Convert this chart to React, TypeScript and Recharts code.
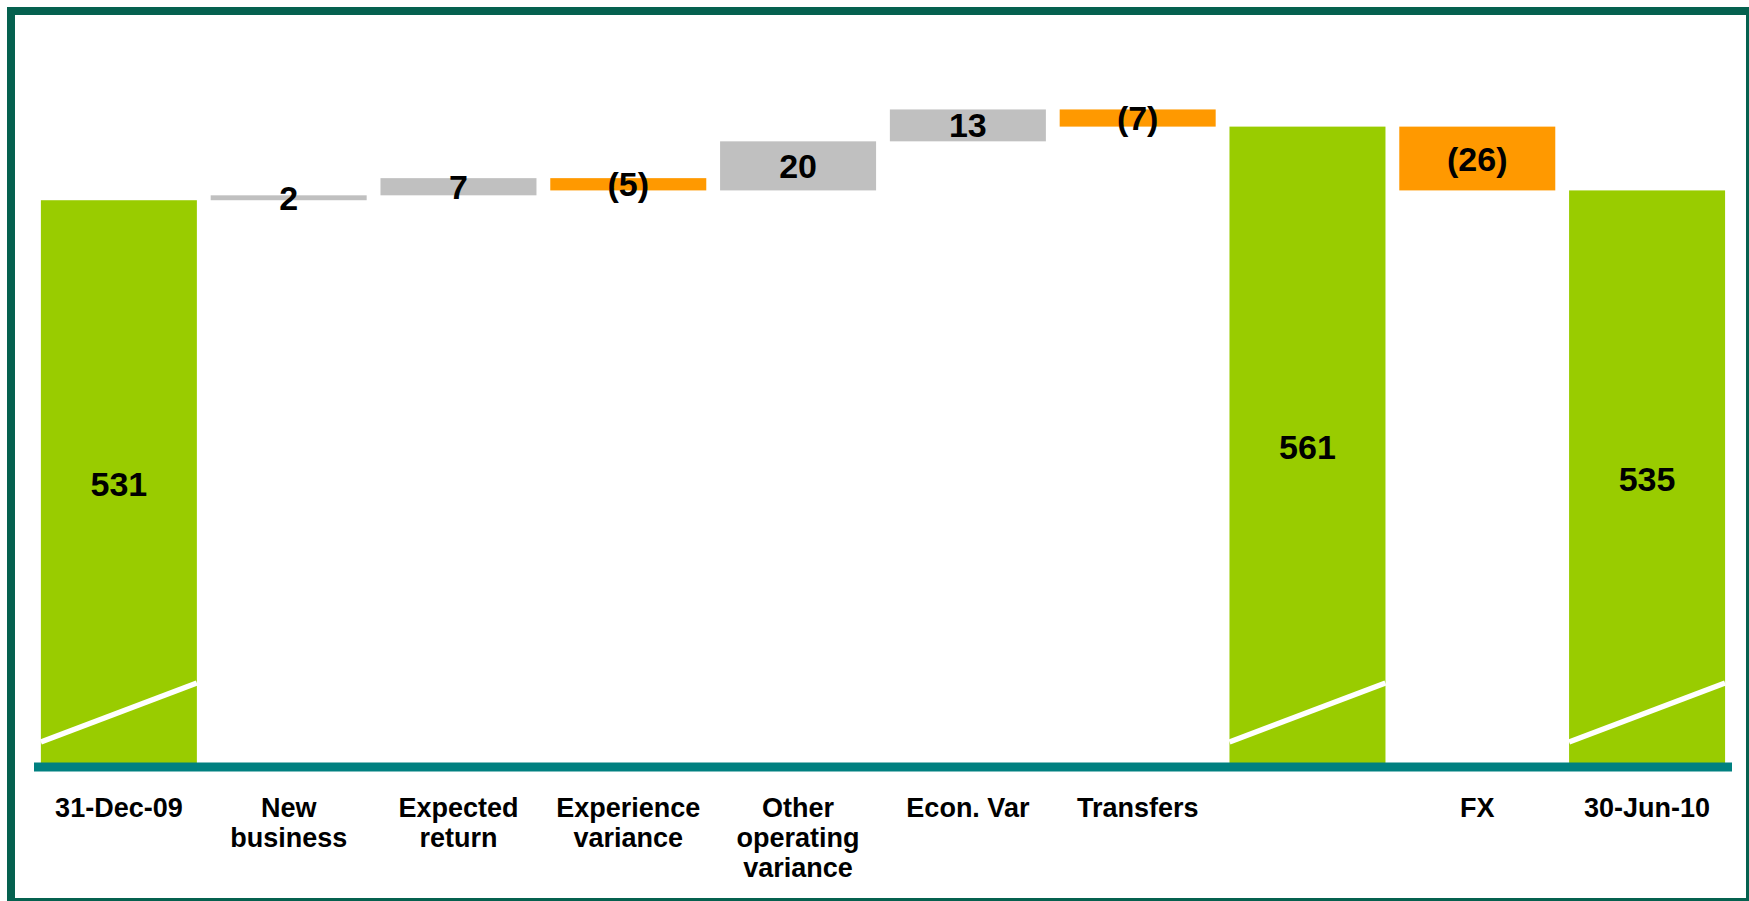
import React from "react";
import { Bar, BarChart, LabelList, XAxis, YAxis } from "recharts";

// waterfall: 31-Dec-09 -> 30-Jun-10
const categories = [
  "31-Dec-09",
  "New\nbusiness",
  "Expected\nreturn",
  "Experience\nvariance",
  "Other\noperating\nvariance",
  "Econ. Var",
  "Transfers",
  "",
  "FX",
  "30-Jun-10",
];
const values = [531, 2, 7, -5, 20, 13, -7, 561, -26, 535];
const isTotal = [true, false, false, false, false, false, false, true, false, true];

// broken axis: bars start here, not at zero
const AXIS_MIN = 300;
const AXIS_MAX = 580;

const GREEN = "#99CC00";
const GRAY = "#C0C0C0";
const ORANGE = "#FF9900";
const TEAL = "#008080";
const FRAME = "#05614F";
const FONT = "'Liberation Sans', Arial, sans-serif";

let running = 0;
const data = categories.map((name, i) => {
  const v = values[i];
  let range: [number, number];
  if (isTotal[i]) {
    running = v;
    range = [AXIS_MIN, v];
  } else {
    const start = running;
    running += v;
    range = [Math.min(start, running), Math.max(start, running)];
  }
  return {
    name,
    range,
    kind: isTotal[i] ? "total" : v >= 0 ? "up" : "down",
    label: v < 0 ? `(${-v})` : String(v),
  };
});

function WaterfallBar(props: any) {
  const { x, y, width, height, payload } = props;
  const kind = payload?.kind;
  const fill = kind === "total" ? GREEN : kind === "up" ? GRAY : ORANGE;
  const bottom = y + height;
  return (
    <g>
      <rect x={x} y={y} width={width} height={height} fill={fill} />
      {kind === "total" && (
        <line
          x1={x}
          y1={bottom - 25}
          x2={x + width}
          y2={bottom - 84}
          stroke="#ffffff"
          strokeWidth={5.5}
        />
      )}
    </g>
  );
}

function CategoryTick(props: any) {
  const { x, y, payload } = props;
  const lines = String(payload?.value ?? "").split("\n");
  return (
    <text
      x={x}
      y={y + 50}
      textAnchor="middle"
      fontSize={27}
      fontWeight="bold"
      fontFamily={FONT}
      fill="#000"
    >
      {lines.map((l, i) => (
        <tspan key={i} x={x} dy={i === 0 ? 0 : 30}>
          {l}
        </tspan>
      ))}
    </text>
  );
}

export default function App() {
  return (
    <div
      style={{
        position: "absolute",
        left: 0,
        top: 0,
        width: 1749,
        height: 901,
        overflow: "hidden",
        background: "#fff",
      }}
    >
      <BarChart
        width={1749}
        height={901}
        data={data}
        margin={{ top: 80, right: 17, bottom: 34, left: 34 }}
        barCategoryGap="4.05%"
      >
        <YAxis hide type="number" domain={[AXIS_MIN, AXIS_MAX]} allowDataOverflow />
        <XAxis
          dataKey="name"
          interval={0}
          height={100}
          tickLine={false}
          tickSize={0}
          tickMargin={0}
          axisLine={{ stroke: TEAL, strokeWidth: 9 }}
          tick={<CategoryTick />}
        />
        <Bar dataKey="range" shape={<WaterfallBar />} isAnimationActive={false}>
          <LabelList
            dataKey="label"
            position="center"
            fill="#000"
            fontSize={34}
            fontWeight="bold"
            fontFamily={FONT}
          />
        </Bar>
      </BarChart>
      <div
        style={{
          position: "absolute",
          left: 7,
          top: 7,
          width: 1747,
          height: 899,
          boxSizing: "border-box",
          border: `8px solid ${FRAME}`,
          pointerEvents: "none",
        }}
      />
    </div>
  );
}
